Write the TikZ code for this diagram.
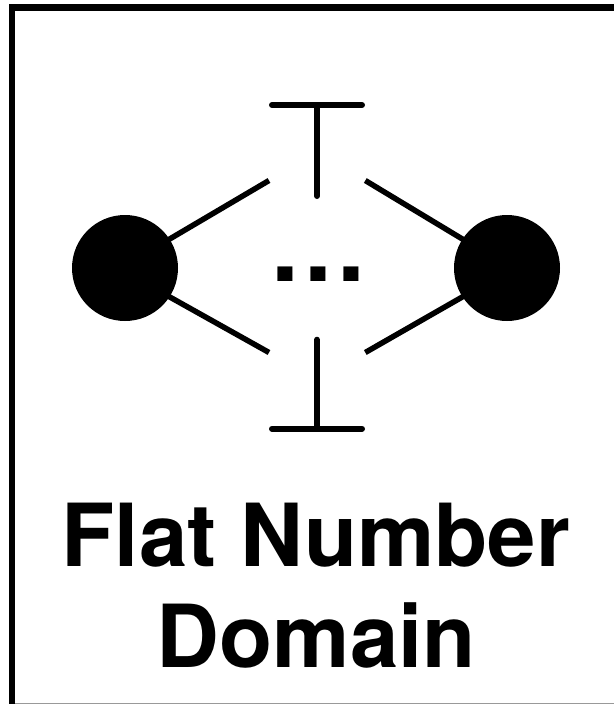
\documentclass[tikz,border=0pt]{standalone}
\usepackage{fontspec}
\setmainfont{TeX Gyre Heros}
\begin{document}
\begin{tikzpicture}[x=1pt,y=-1pt,
  seg/.style={line width=6pt,line cap=round,black},
  arm/.style={line width=5.5pt,black},
  dot/.style={circle,fill=black,draw=none,inner sep=0pt,minimum size=106pt},
  label/.style={inner sep=0pt,anchor=base,font=\bfseries\fontsize{87}{97}\selectfont}]
\useasboundingbox (0,0) rectangle (614,704);
\fill[white] (0,0) rectangle (614,704);
% frame
\draw[line width=6.5pt,line cap=butt] (12,704) -- (12,7.7) -- (614,7.7);
\draw[line width=1pt,gray!80] (15,703.5) -- (614,703.5);
% poles
\node[dot] (l) at (125,268) {};
\node[dot] (r) at (507,268) {};
\coordinate (tl) at (272,105);
\coordinate (tr) at (362,105);
\coordinate (tm) at (317,105);
\coordinate (te) at (317,196);
\coordinate (bl) at (272,428.7);
\coordinate (br) at (362,428.7);
\coordinate (bm) at (317,428.7);
\coordinate (be) at (317,339.7);
\coordinate (a) at (269,180.5);
\coordinate (b) at (365.3,180.5);
\coordinate (c) at (269,352.5);
\coordinate (d) at (365.3,352.5);
\coordinate (la) at (168,240);
\coordinate (lc) at (168,296);
\coordinate (rb) at (464,240);
\coordinate (rd) at (464,296);
\draw[seg] (tl) -- (tr);
\draw[seg] (tm) -- (te);
\draw[seg] (bl) -- (br);
\draw[seg] (bm) -- (be);
\draw[arm] (la) -- (a);
\draw[arm] (rb) -- (b);
\draw[arm] (lc) -- (c);
\draw[arm] (rd) -- (d);
\node[inner sep=0pt,anchor=base west,font=\bfseries\fontsize{100}{100}\selectfont] (dots) at (271.3,281) {.\kern5.2pt.\kern5.2pt.};
\node[label] (t1) at (316,566.7) {Flat Number};
\node[label] (t2) at (316.5,667) {Domain};
\end{tikzpicture}
\end{document}
